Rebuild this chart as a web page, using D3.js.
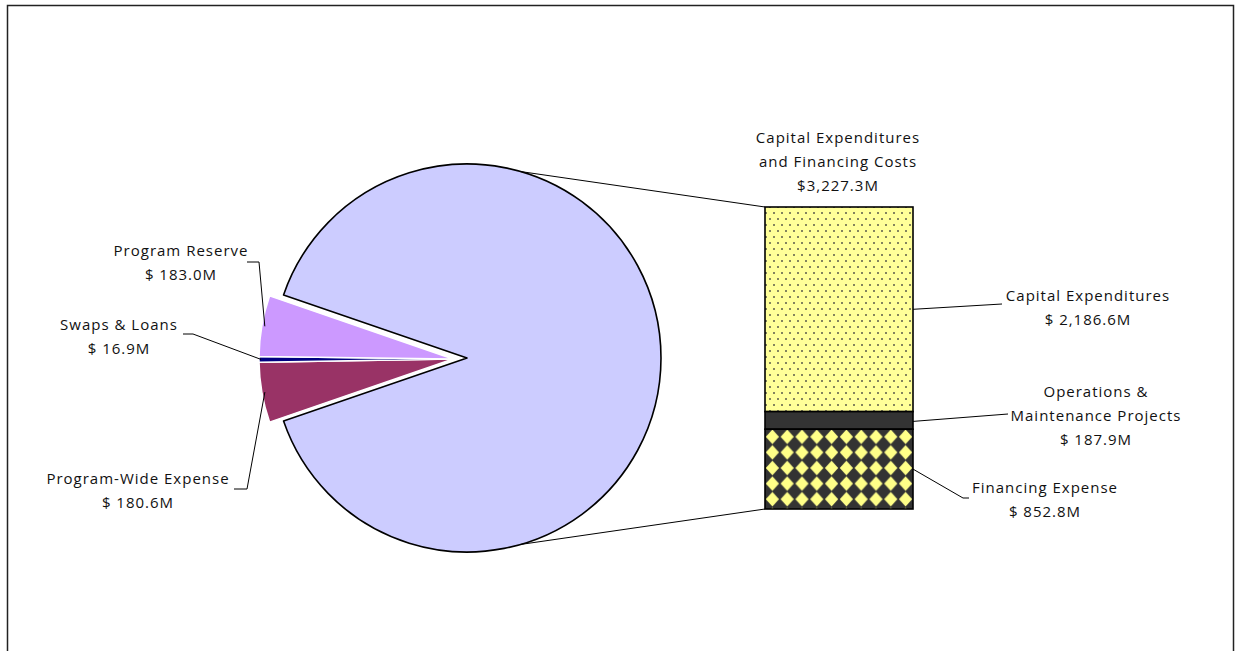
<!doctype html>
<html lang="en">
<head>
  <meta charset="utf-8">
  <title>Program costs</title>
  <script src="https://cdn.jsdelivr.net/npm/d3@7"></script>
  <style>
    html, body { margin: 0; padding: 0; background: #fff; }
    svg text { font-family: "Open Sans", "Noto Sans", sans-serif; font-size: 15px; fill: #111; letter-spacing: 1px; }
  </style>
</head>
<body>
<svg id="chart" width="1235" height="651"></svg>
<script>
  // pie slices, in clockwise order starting with the big one
  const pieNames = ["Capital Expenditures and Financing Costs", "Program-Wide Expense", "Swaps & Loans", "Program Reserve"];
  const pieValues = [3227.3, 180.6, 16.9, 183.0];
  const pieLabels = [
    ["Capital Expenditures", "and Financing Costs", "$3,227.3M"],
    ["Program-Wide Expense", "$ 180.6M"],
    ["Swaps & Loans", "$ 16.9M"],
    ["Program Reserve", "$ 183.0M"]
  ];
  const pieColors = ["#ccccff", "#993366", "#000080", "#cc99ff"];

  // stacked bar, top to bottom
  const barNames = ["Capital Expenditures", "Operations & Maintenance Projects", "Financing Expense"];
  const barValues = [2186.6, 187.9, 852.8];
  const barLabels = [
    ["Capital Expenditures", "$ 2,186.6M"],
    ["Operations &", "Maintenance Projects", "$ 187.9M"],
    ["Financing Expense", "$ 852.8M"]
  ];
  const barFills = ["url(#dots)", "#333333", "url(#diamonds)"];

  const svg = d3.select("#chart");

  // frame
  svg.append("rect").attr("x", 7.5).attr("y", 5.5).attr("width", 1226).attr("height", 700)
    .attr("fill", "none").attr("stroke", "#222").attr("stroke-width", 1.5);

  // patterns
  const defs = svg.append("defs");
  const dots = defs.append("pattern").attr("id", "dots").attr("patternUnits", "userSpaceOnUse")
    .attr("width", 8).attr("height", 12);
  dots.append("rect").attr("width", 8).attr("height", 12).attr("fill", "#ffff99");
  dots.append("circle").attr("cx", 2).attr("cy", 3).attr("r", 1).attr("fill", "#5a5a4a");
  dots.append("circle").attr("cx", 6).attr("cy", 9).attr("r", 1).attr("fill", "#5a5a4a");

  const diam = defs.append("pattern").attr("id", "diamonds").attr("patternUnits", "userSpaceOnUse")
    .attr("x", 765).attr("y", 429).attr("width", 14.8).attr("height", 15.6);
  diam.append("rect").attr("width", 14.8).attr("height", 15.6).attr("fill", "#333333");
  diam.append("path").attr("d", "M7.4,0.6 L14,7.8 L7.4,15 L0.8,7.8 Z").attr("fill", "#ffff88");

  // pie
  const cx = 467, cy = 358, r = 194, explode = 14;
  const total = d3.sum(pieValues);
  const smallAngle = (total - pieValues[0]) / total * 2 * Math.PI;
  const start = -Math.PI / 2 + smallAngle / 2;
  const pie = d3.pie().sort(null).startAngle(start).endAngle(start + 2 * Math.PI);
  const arc = d3.arc().innerRadius(0).outerRadius(r);
  const arcs = pie(pieValues);

  const g = svg.append("g").attr("transform", `translate(${cx},${cy})`);
  g.selectAll("path.slice").data(arcs).join("path")
    .attr("class", "slice")
    .attr("d", arc)
    .attr("transform", (d, i) => i === 0 ? null : `translate(${-explode},1)`)
    .attr("fill", (d, i) => pieColors[i])
    .attr("stroke", (d, i) => i === 0 ? "#000" : "#fff")
    .attr("stroke-width", (d, i) => i === 0 ? 1.6 : 1.5)
    .attr("stroke-linejoin", "round");

  // bar
  const barTotal = d3.sum(barValues);
  const y = d3.scaleLinear().domain([0, barTotal]).range([509, 207]);
  const bx = 765, bw = 148;
  let acc = barTotal;
  const segs = barValues.map((v, i) => { const top = acc; acc -= v; return { top, bottom: acc, i }; });
  svg.selectAll("rect.seg").data(segs).join("rect")
    .attr("class", "seg")
    .attr("x", bx).attr("width", bw)
    .attr("y", d => y(d.top)).attr("height", d => y(d.bottom) - y(d.top))
    .attr("fill", d => barFills[d.i])
    .attr("stroke", "#000").attr("stroke-width", 1.6);

  // connector lines pie -> bar
  const pt = (a, rad) => [cx + rad * Math.sin(a), cy - rad * Math.cos(a)];
  const conA = 0.28;
  const p1 = pt(conA, r), p2 = pt(Math.PI - conA, r);
  svg.append("line").attr("x1", p1[0]).attr("y1", p1[1]).attr("x2", bx).attr("y2", y(barTotal))
    .attr("stroke", "#000").attr("stroke-width", 1);
  svg.append("line").attr("x1", p2[0]).attr("y1", p2[1]).attr("x2", bx).attr("y2", y(0))
    .attr("stroke", "#000").attr("stroke-width", 1);

  // labels
  function label(lines, x, y0) {
    const t = svg.append("text").attr("text-anchor", "middle");
    lines.forEach((s, k) => t.append("tspan").attr("x", x).attr("y", y0 + k * 24).text(s));
  }
  label(pieLabels[0], 838, 143);
  label(pieLabels[3], 181, 256);
  label(pieLabels[2], 119, 330);
  label(pieLabels[1], 138, 484);
  label(barLabels[0], 1088, 301);
  label(barLabels[1], 1096, 397);
  label(barLabels[2], 1045, 493);

  // leader lines (anchor on slice / segment taken from the marks)
  const mid = d => (d.startAngle + d.endAngle) / 2;
  const onSlice = (d, rad) => { const p = pt(mid(d), rad); return [p[0] - explode, p[1] + 1]; };
  const leaders = [
    [[247, 262], [259, 262], onSlice(arcs[3], r - 3)],
    [[183, 334], [193, 334], onSlice(arcs[2], r - 2)],
    [[234, 489], [247, 489], onSlice(arcs[1], r - 3)],
    [[1002, 304], [bx + bw, (y(segs[0].top) + y(segs[0].bottom)) / 2]],
    [[1008, 414], [bx + bw, (y(segs[1].top) + y(segs[1].bottom)) / 2 + 1]],
    [[969, 498], [963, 498], [bx + bw, (y(segs[2].top) + y(segs[2].bottom)) / 2]]
  ];
  svg.selectAll("path.leader").data(leaders).join("path")
    .attr("class", "leader")
    .attr("d", d => d3.line()(d))
    .attr("fill", "none").attr("stroke", "#000").attr("stroke-width", 1);
</script>
</body>
</html>
